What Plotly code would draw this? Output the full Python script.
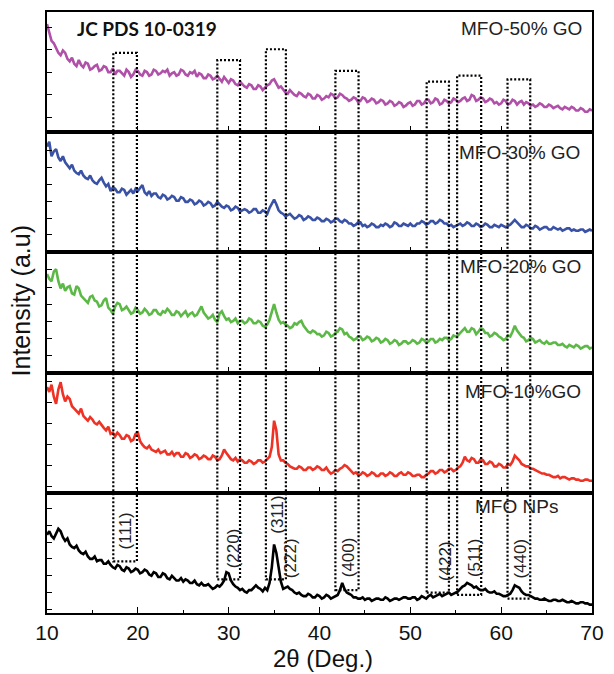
import plotly.graph_objects as go
from plotly.subplots import make_subplots

two_theta = [10 + 0.25 * i for i in range(241)]

mfo_50go = [90, 82, 76, 74, 70, 66, 64, 68, 66, 61, 59, 62, 57, 55, 60, 56, 54, 58, 57, 52,
            53, 55, 56, 51, 52, 55, 54, 50, 50, 53, 48, 51, 51, 49, 47, 52, 50, 46, 48, 52,
            51, 48, 47, 51, 50, 47, 48, 52, 51, 48, 49, 51, 50, 52, 47, 49, 50, 47, 48, 52,
            51, 48, 47, 50, 49, 51, 46, 49, 48, 45, 45, 48, 47, 44, 45, 47, 44, 42, 46, 43,
            41, 44, 43, 40, 39, 42, 40, 38, 37, 40, 39, 36, 36, 39, 38, 35, 37, 39, 40, 43,
            44, 40, 37, 38, 35, 33, 32, 35, 33, 31, 30, 33, 32, 30, 29, 32, 31, 28, 28, 31,
            30, 27, 28, 30, 29, 32, 31, 28, 29, 32, 31, 29, 28, 26, 27, 29, 28, 25, 26, 29,
            28, 25, 26, 28, 27, 24, 25, 27, 26, 23, 24, 26, 25, 22, 23, 25, 24, 21, 22, 24,
            25, 22, 23, 26, 26, 23, 24, 27, 27, 24, 25, 28, 27, 23, 24, 27, 26, 24, 25, 28,
            27, 25, 26, 28, 29, 26, 27, 31, 30, 26, 27, 29, 28, 25, 26, 28, 27, 24, 25, 23,
            24, 27, 26, 23, 24, 27, 26, 23, 25, 26, 23, 25, 24, 22, 23, 21, 22, 24, 23, 21,
            21, 23, 22, 20, 21, 22, 20, 19, 21, 20, 19, 21, 20, 18, 18, 20, 19, 17, 17, 19,
            18]

mfo_30go = [88, 92, 80, 84, 86, 79, 76, 80, 75, 72, 70, 73, 68, 66, 65, 68, 64, 62, 61, 64,
            60, 58, 57, 60, 62, 58, 55, 57, 51, 54, 53, 50, 50, 53, 52, 48, 50, 52, 49, 53,
            51, 54, 56, 50, 48, 51, 47, 49, 49, 46, 45, 48, 47, 44, 45, 47, 46, 43, 43, 46,
            45, 42, 42, 44, 43, 40, 41, 43, 42, 39, 40, 42, 41, 38, 39, 42, 40, 38, 37, 39,
            38, 35, 36, 38, 37, 34, 35, 36, 35, 33, 34, 36, 36, 33, 33, 35, 34, 32, 37, 40,
            44, 40, 35, 33, 32, 30, 31, 32, 30, 28, 29, 31, 30, 27, 28, 30, 29, 27, 27, 29,
            28, 26, 26, 28, 27, 25, 26, 28, 28, 26, 25, 27, 26, 24, 24, 22, 23, 25, 25, 22,
            23, 21, 22, 24, 23, 21, 21, 23, 22, 24, 23, 21, 22, 25, 24, 22, 22, 24, 23, 22,
            24, 22, 22, 24, 24, 26, 25, 23, 24, 26, 26, 24, 25, 27, 26, 24, 24, 22, 23, 21,
            22, 23, 24, 22, 23, 25, 24, 22, 22, 24, 23, 21, 22, 24, 23, 21, 21, 23, 22, 21,
            23, 22, 21, 22, 23, 25, 27, 25, 23, 21, 21, 23, 22, 20, 20, 22, 21, 19, 20, 21,
            21, 19, 19, 21, 20, 19, 20, 18, 19, 20, 20, 18, 19, 18, 18, 19, 19, 17, 18, 19,
            18]

mfo_20go = [82, 78, 76, 84, 86, 76, 70, 74, 68, 71, 72, 66, 65, 72, 70, 64, 62, 60, 58, 63,
            64, 60, 59, 55, 56, 60, 62, 54, 52, 49, 55, 58, 57, 52, 53, 55, 52, 49, 50, 54,
            52, 49, 50, 53, 51, 48, 49, 52, 52, 49, 48, 51, 50, 53, 51, 48, 48, 51, 50, 47,
            49, 51, 47, 49, 50, 47, 48, 51, 55, 50, 47, 45, 46, 48, 44, 42, 49, 51, 47, 44,
            45, 42, 43, 45, 41, 43, 43, 41, 42, 45, 44, 41, 41, 43, 42, 39, 38, 40, 44, 50,
            57, 50, 44, 41, 42, 40, 39, 37, 38, 41, 40, 42, 43, 39, 36, 34, 33, 35, 34, 32,
            32, 30, 31, 34, 33, 30, 31, 33, 34, 37, 36, 32, 33, 30, 29, 27, 28, 30, 30, 27,
            28, 30, 29, 26, 27, 29, 28, 25, 26, 28, 27, 24, 25, 27, 26, 23, 24, 26, 26, 24,
            25, 27, 26, 24, 25, 28, 27, 25, 26, 28, 28, 25, 26, 28, 27, 29, 29, 27, 28, 31,
            30, 31, 33, 35, 37, 34, 34, 37, 36, 32, 34, 37, 36, 33, 33, 30, 31, 33, 32, 30,
            29, 27, 28, 31, 30, 34, 39, 35, 32, 30, 29, 26, 27, 29, 28, 25, 26, 27, 25, 24,
            26, 24, 24, 25, 25, 23, 23, 24, 22, 21, 23, 22, 21, 23, 22, 20, 21, 22, 22, 20,
            21]

mfo_10go = [88, 84, 90, 80, 74, 86, 92, 82, 76, 80, 78, 72, 70, 68, 66, 70, 64, 62, 60, 63,
            61, 58, 57, 59, 56, 54, 52, 55, 49, 50, 47, 50, 48, 45, 45, 48, 47, 43, 44, 49,
            50, 43, 40, 38, 37, 39, 36, 35, 34, 36, 33, 34, 35, 32, 32, 34, 31, 33, 33, 30,
            30, 33, 32, 29, 30, 32, 31, 28, 29, 31, 30, 28, 28, 31, 30, 27, 28, 31, 36, 33,
            30, 28, 27, 29, 26, 28, 27, 25, 25, 27, 26, 24, 25, 27, 27, 25, 26, 28, 30, 38,
            60, 52, 32, 27, 27, 25, 24, 22, 21, 20, 20, 22, 21, 19, 19, 21, 21, 19, 20, 22,
            21, 19, 19, 21, 18, 16, 17, 19, 18, 20, 21, 23, 22, 20, 18, 16, 17, 15, 15, 17,
            16, 14, 15, 17, 16, 14, 14, 16, 16, 14, 15, 17, 16, 14, 14, 16, 17, 15, 15, 17,
            16, 14, 14, 15, 15, 13, 13, 15, 16, 18, 18, 16, 17, 19, 19, 17, 18, 20, 20, 18,
            19, 21, 22, 25, 30, 27, 26, 29, 28, 25, 25, 28, 27, 24, 24, 26, 25, 22, 22, 24,
            23, 21, 21, 24, 23, 26, 31, 29, 27, 24, 23, 22, 22, 20, 20, 19, 18, 17, 16, 16,
            15, 15, 14, 13, 13, 14, 12, 13, 13, 12, 11, 12, 12, 11, 11, 10, 10, 11, 11, 10,
            10]

mfo_nps = [65, 68, 64, 62, 66, 70, 68, 63, 60, 62, 57, 55, 54, 56, 52, 50, 49, 51, 47, 45,
           45, 47, 43, 44, 44, 41, 41, 43, 40, 38, 37, 40, 39, 36, 35, 38, 37, 34, 35, 37,
           36, 33, 34, 36, 35, 32, 31, 34, 33, 30, 30, 33, 32, 29, 28, 31, 29, 27, 27, 29,
           26, 28, 27, 25, 25, 27, 24, 23, 25, 23, 23, 24, 22, 20, 21, 23, 22, 24, 27, 34,
           33, 27, 24, 22, 21, 19, 20, 18, 17, 19, 19, 21, 23, 21, 20, 18, 21, 19, 25, 38,
           57, 50, 38, 26, 20, 21, 22, 20, 19, 17, 16, 17, 15, 14, 14, 16, 15, 13, 13, 15,
           14, 12, 13, 15, 14, 12, 13, 14, 15, 19, 25, 20, 17, 16, 15, 13, 13, 12, 12, 13,
           11, 12, 12, 10, 11, 12, 12, 11, 11, 13, 12, 10, 11, 12, 12, 11, 12, 13, 13, 12,
           12, 13, 13, 11, 12, 14, 13, 12, 14, 15, 13, 14, 15, 16, 14, 15, 16, 17, 15, 16,
           17, 18, 20, 22, 23, 25, 24, 23, 21, 22, 20, 19, 19, 20, 18, 17, 17, 18, 16, 16,
           15, 14, 14, 15, 16, 19, 23, 22, 21, 18, 16, 15, 15, 14, 13, 12, 12, 11, 11, 12,
           11, 10, 10, 11, 11, 10, 10, 11, 10, 9, 9, 10, 9, 8, 8, 9, 9, 8, 8, 7,
           7]

sample_names = ["MFO-50% GO", "MFO-30% GO", "MFO-20% GO", "MFO-10%GO", "MFO NPs"]
sample_series = [mfo_50go, mfo_30go, mfo_20go, mfo_10go, mfo_nps]
sample_colors = ["#B050A8", "#3A52A6", "#5DB947", "#EE3225", "#000000"]
name_x = [55.4, 55.15, 55.25, 55.8, 56.9]
name_y = [86, 83, 88, 84, 89]

# JCPDS 10-0319 reflections: (hkl), 2theta window of dotted box, top (panel 1) and bottom (panel 5)
hkl_labels = ["(111)", "(220)", "(311)", "(400)", "(422)", "(511)", "(440)"]
box_left = [17.3, 28.75, 34.1, 41.75, 51.8, 55.15, 60.7]
box_right = [19.9, 31.25, 36.3, 44.3, 54.25, 57.8, 63.2]
box_top = [66, 60, 69, 51, 42, 47, 44]
box_bottom = [43, 28, 28, 19, 17, 15, 12]
label_x = [18.6, 30.5, 35.35, 43.2, 53.9, 57.05, 62.15]
label_y = [68, 54, 82, 46, 43, 46, 45]
extra_label = "(222)"
extra_x = 36.8
extra_y = 46

ytick0 = [12.4, 14.6, 14.0, 5.0, 3.0]
ydtick = [18.7, 14.0, 14.3, 17.6, 14.0]

fig = make_subplots(rows=5, cols=1, shared_xaxes=True, vertical_spacing=0)

for i, (nm, ys, col) in enumerate(zip(sample_names, sample_series, sample_colors)):
    r = i + 1
    fig.add_trace(go.Scatter(x=two_theta, y=ys, mode="lines", name=nm,
                             line=dict(color=col, width=2.6), showlegend=False),
                  row=r, col=1)
    fig.update_yaxes(range=[0, 100], showticklabels=False, ticks="inside", ticklen=5,
                     tickwidth=1.3, tickcolor="black", tick0=ytick0[i], dtick=ydtick[i],
                     showline=True, linecolor="black", linewidth=1.6, mirror=True,
                     showgrid=False, zeroline=False, row=r, col=1)
    fig.update_xaxes(range=[10, 70], tick0=10, dtick=10, ticks="inside", ticklen=6,
                     tickwidth=1.3, tickcolor="black", showline=True, linecolor="black",
                     linewidth=1.6, mirror=True, showgrid=False, zeroline=False,
                     showticklabels=(r == 5), row=r, col=1)
    yref = "y" if r == 1 else "y%d" % r
    fig.add_annotation(x=name_x[i], y=name_y[i], xref="x", yref=yref, text=nm,
                       showarrow=False, xanchor="left", yanchor="middle",
                       font=dict(family="Liberation Sans, Arial", size=19, color="#222"))

fig.update_xaxes(minor=dict(ticks="inside", ticklen=3, dtick=5, tick0=10, tickcolor="black",
                            tickwidth=1.2),
                 tickfont=dict(family="Liberation Sans, Arial", size=21, color="#111"),
                 row=5, col=1)

def paper_y(row, v):
    return (1 - row / 5) + v / 100 * 0.2

for k in range(len(hkl_labels)):
    fig.add_shape(type="rect", xref="x", yref="paper",
                  x0=box_left[k], x1=box_right[k],
                  y0=paper_y(5, box_bottom[k]), y1=paper_y(1, box_top[k]),
                  line=dict(color="black", width=2.2, dash="2px,2px"), layer="above")
    fig.add_annotation(x=label_x[k], y=label_y[k], xref="x", yref="y5", text=hkl_labels[k],
                       textangle=-90, showarrow=False, xanchor="center", yanchor="middle",
                       font=dict(family="Liberation Sans, Arial", size=17, color="#222"))

fig.add_annotation(x=extra_x, y=extra_y, xref="x", yref="y5", text=extra_label,
                   textangle=-90, showarrow=False, xanchor="center", yanchor="middle",
                   font=dict(family="Liberation Sans, Arial", size=17, color="#222"))

fig.add_annotation(x=21.0, y=86, xref="x", yref="y", text="<b>JC PDS 10-0319</b>",
                   showarrow=False, xanchor="center", yanchor="middle",
                   font=dict(family="Lato, Open Sans", size=19, color="#111"))

fig.add_annotation(x=-0.047, y=0.519, xref="paper", yref="paper", text="Intensity (a.u)",
                   textangle=-90, showarrow=False, xanchor="center", yanchor="middle",
                   font=dict(family="Liberation Sans, Arial", size=25, color="#111"))
fig.add_annotation(x=0.507, y=-0.076, xref="paper", yref="paper", text="2θ (Deg.)",
                   showarrow=False, xanchor="center", yanchor="middle",
                   font=dict(family="Liberation Sans, Arial", size=24, color="#111"))

fig.update_layout(width=614, height=674, margin=dict(l=47, r=17, t=10, b=61),
                  plot_bgcolor="white", paper_bgcolor="white", showlegend=False)

fig.write_html("out.html", config={"displayModeBar": False},
               post_script="document.body.style.margin='0';document.body.style.overflow='hidden';")
